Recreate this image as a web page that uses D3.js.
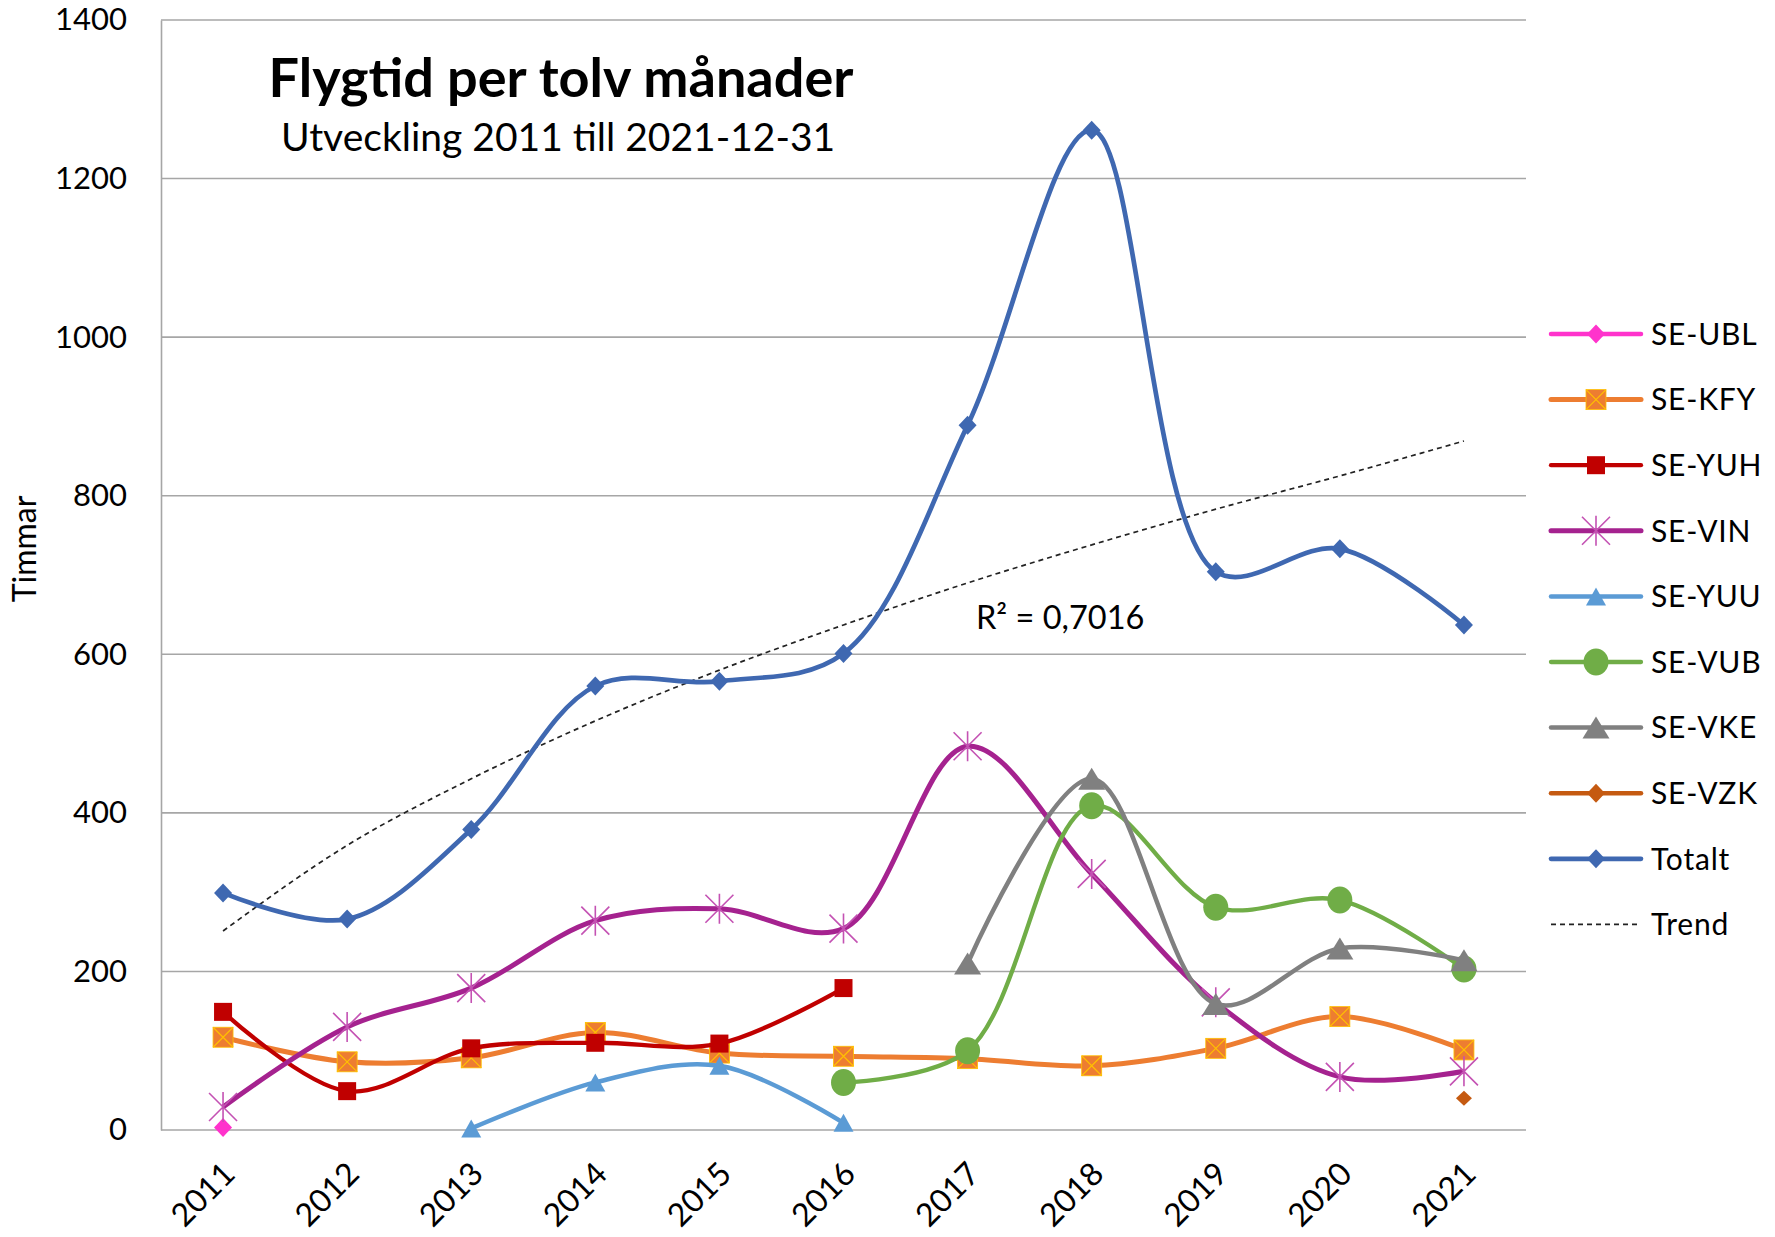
<!DOCTYPE html>
<meta charset="utf-8">
<head>
<title>Flygtid per tolv månader</title>
<script src="https://cdn.jsdelivr.net/npm/d3@7"></script>
<style>
  body { margin: 0; background: #fff; }
  svg text { font-family: Lato, "Noto Sans", sans-serif; fill: #000; }
</style>
</head>
<body>
<div id="chart"></div>
<script>
// categories
var years = ["2011","2012","2013","2014","2015","2016","2017","2018","2019","2020","2021"];
var yTicks = [0, 200, 400, 600, 800, 1000, 1200, 1400];

// series values (hours), null = no data that year
var seUBL   = [3, null, null, null, null, null, null, null, null, null, null];
var seKFY   = [117, 86, 91, 123, 97, 93, 90, 81, 103, 143, 101];
var seYUH   = [149, 49, 103, 110, 109, 179, null, null, null, null, null];
var seVIN   = [29, 130, 179, 264, 279, 254, 484, 323, 161, 67, 74];
var seYUU   = [null, null, 2, 60, 81, 9, null, null, null, null, null];
var seVUB   = [null, null, null, null, null, 60, 100, 409, 281, 290, 203];
var seVKE   = [null, null, null, null, null, null, 210, 443, 159, 229, 214];
var seVZK   = [null, null, null, null, null, null, null, null, null, null, 40];
var totalt  = [299, 266, 379, 560, 566, 601, 889, 1261, 704, 733, 637];
var trend   = [251, 359, 443, 516, 580, 637, 690, 738, 783, 825, 869];

var series = [
  {name: "SE-UBL", values: seUBL, color: "#ff33cc", marker: "diamond", w: 4.5},
  {name: "SE-KFY", values: seKFY, color: "#ed7d31", marker: "squareX", w: 5},
  {name: "SE-YUH", values: seYUH, color: "#c00000", marker: "square", w: 4.3},
  {name: "SE-VIN", values: seVIN, color: "#a5228f", marker: "star", w: 5},
  {name: "SE-YUU", values: seYUU, color: "#5b9bd5", marker: "triangle", w: 4.5},
  {name: "SE-VUB", values: seVUB, color: "#70ad47", marker: "circle", w: 4.3},
  {name: "SE-VKE", values: seVKE, color: "#808080", marker: "bigtriangle", w: 4.5},
  {name: "SE-VZK", values: seVZK, color: "#c55a11", marker: "smalldiamond", w: 4.5},
  {name: "Totalt", values: totalt, color: "#3f68b1", marker: "diamond", w: 4.7}
];

var W = 1775, H = 1237;
var margin = {top: 20, right: 249, bottom: 107, left: 161};

var svg = d3.select("#chart").append("svg")
  .attr("width", W).attr("height", H);

var x = d3.scaleBand().domain(years).range([margin.left, W - margin.right]).padding(0);
var y = d3.scaleLinear().domain([0, 1400]).range([H - margin.bottom, margin.top]);
var cx = function(yr) { return x(yr) + x.bandwidth() / 2; };

// gridlines
svg.append("g").selectAll("line")
  .data(yTicks)
  .enter().append("line")
  .attr("x1", margin.left).attr("x2", W - margin.right)
  .attr("y1", function(d) { return y(d); })
  .attr("y2", function(d) { return y(d); })
  .style("stroke", "#a6a6a6").style("stroke-width", 1.6);

// left axis
var yAxis = svg.append("g")
  .attr("transform", "translate(" + margin.left + ",0)")
  .call(d3.axisLeft(y).tickValues(yTicks).tickFormat(d3.format("d")).tickSize(0).tickPadding(34));
yAxis.select(".domain").style("stroke", "#a6a6a6").style("stroke-width", 1.6);
yAxis.selectAll("text").style("font-size", "31px").style("font-family", "Lato");

svg.append("text")
  .attr("transform", "translate(36,549) rotate(-90)")
  .attr("text-anchor", "middle")
  .style("font-size", "32px")
  .text("Timmar");

// x labels
svg.append("g").selectAll("text")
  .data(years)
  .enter().append("text")
  .attr("transform", function(d) { return "translate(" + (cx(d) + 6) + "," + (y(0) + 38) + ") rotate(-45)"; })
  .attr("text-anchor", "end")
  .attr("dy", "0.35em")
  .style("font-size", "32px")
  .text(function(d) { return d; });

// title
svg.append("text")
  .attr("x", 561).attr("y", 97)
  .attr("text-anchor", "middle")
  .style("font-size", "54px").style("font-weight", "bold")
  .text("Flygtid per tolv månader");
svg.append("text")
  .attr("x", 558).attr("y", 151)
  .attr("text-anchor", "middle")
  .style("font-size", "39px")
  .text("Utveckling 2011 till 2021-12-31");

// trend line
var trendPts = years.map(function(d, i) { return [cx(d), y(trend[i])]; });
svg.append("path")
  .attr("d", d3.line().curve(d3.curveMonotoneX)(trendPts))
  .style("fill", "none").style("stroke", "#222")
  .style("stroke-width", 1.7).style("stroke-dasharray", "5,4");

svg.append("text")
  .attr("x", 976).attr("y", 629)
  .style("font-size", "32.5px")
  .text("R² = 0,7016");

function drawMarker(g, type, color, px, py) {
  if (type === "diamond" || type === "smalldiamond") {
    var r = type === "diamond" ? 9.5 : 7.5;
    var rw = type === "diamond" ? 9 : 8;
    g.append("path")
      .attr("d", "M" + px + "," + (py - r) + "L" + (px + rw) + "," + py + "L" + px + "," + (py + r) + "L" + (px - rw) + "," + py + "Z")
      .style("fill", color);
  } else if (type === "square" || type === "squareX") {
    var s = type === "squareX" ? 10 : 9;
    g.append("rect").attr("x", px - s).attr("y", py - s).attr("width", 2 * s).attr("height", 2 * s)
      .style("fill", color);
    if (type === "squareX") {
      g.append("path")
        .attr("d", "M" + (px - s) + "," + (py - s) + "L" + (px + s) + "," + (py + s) + "M" + (px + s) + "," + (py - s) + "L" + (px - s) + "," + (py + s))
        .style("stroke", "#ffc000").style("stroke-width", 1.2).style("fill", "none");
      g.append("rect").attr("x", px - s).attr("y", py - s).attr("width", 2 * s).attr("height", 2 * s)
        .style("fill", "none").style("stroke", "#ffc000").style("stroke-width", 0.8);
    }
  } else if (type === "star") {
    var a = 15, b = 14;
    g.append("path")
      .attr("d", "M" + px + "," + (py - a) + "L" + px + "," + (py + a) +
                 "M" + (px - b) + "," + (py - b) + "L" + (px + b) + "," + (py + b) +
                 "M" + (px + b) + "," + (py - b) + "L" + (px - b) + "," + (py + b))
      .style("stroke", "#c452b3").style("stroke-width", 1.6).style("fill", "none");
  } else if (type === "triangle" || type === "bigtriangle") {
    var hw = type === "triangle" ? 10 : 13.5, hh = type === "triangle" ? 9 : 11;
    g.append("path")
      .attr("d", "M" + px + "," + (py - hh) + "L" + (px + hw) + "," + (py + hh) + "L" + (px - hw) + "," + (py + hh) + "Z")
      .style("fill", color);
  } else if (type === "circle") {
    g.append("ellipse").attr("cx", px).attr("cy", py).attr("rx", 12.5).attr("ry", 13.5)
      .style("fill", color);
  }
}

var line = d3.line()
  .x(function(d) { return cx(d.yr); })
  .y(function(d) { return y(d.v); })
  .curve(d3.curveCatmullRom.alpha(0.5));

series.forEach(function(s) {
  var pts = years.map(function(yr, i) { return {yr: yr, v: s.values[i]}; })
    .filter(function(d) { return d.v !== null; });
  var g = svg.append("g");
  g.append("path")
    .attr("d", line(pts))
    .style("fill", "none").style("stroke", s.color)
    .style("stroke-width", s.w).style("stroke-linejoin", "round");
  pts.forEach(function(d) {
    drawMarker(g, s.marker, s.color, cx(d.yr), y(d.v));
  });
});

// legend
var legendItems = series.map(function(s) { return {name: s.name, color: s.color, marker: s.marker, w: s.w}; });
legendItems.push({name: "Trend", color: "#000", marker: "dash"});
var legend = svg.append("g");
legendItems.forEach(function(d, i) {
  var ly = 334 + i * 65.6;
  var lg = legend.append("g");
  if (d.marker === "dash") {
    lg.append("line").attr("x1", 1551).attr("x2", 1641).attr("y1", ly).attr("y2", ly)
      .style("stroke", "#222").style("stroke-width", 1.7).style("stroke-dasharray", "5,4");
  } else {
    lg.append("line").attr("x1", 1551).attr("x2", 1641).attr("y1", ly).attr("y2", ly)
      .style("stroke", d.color).style("stroke-width", d.w).style("stroke-linecap", "round");
    drawMarker(lg, d.marker === "smalldiamond" ? "diamond" : d.marker, d.color, 1596, ly);
  }
  lg.append("text").attr("x", 1651).attr("y", ly).attr("dy", "0.36em")
    .style("font-size", "30px").style("letter-spacing", "0.8px")
    .text(d.name);
});
</script>
</body>
